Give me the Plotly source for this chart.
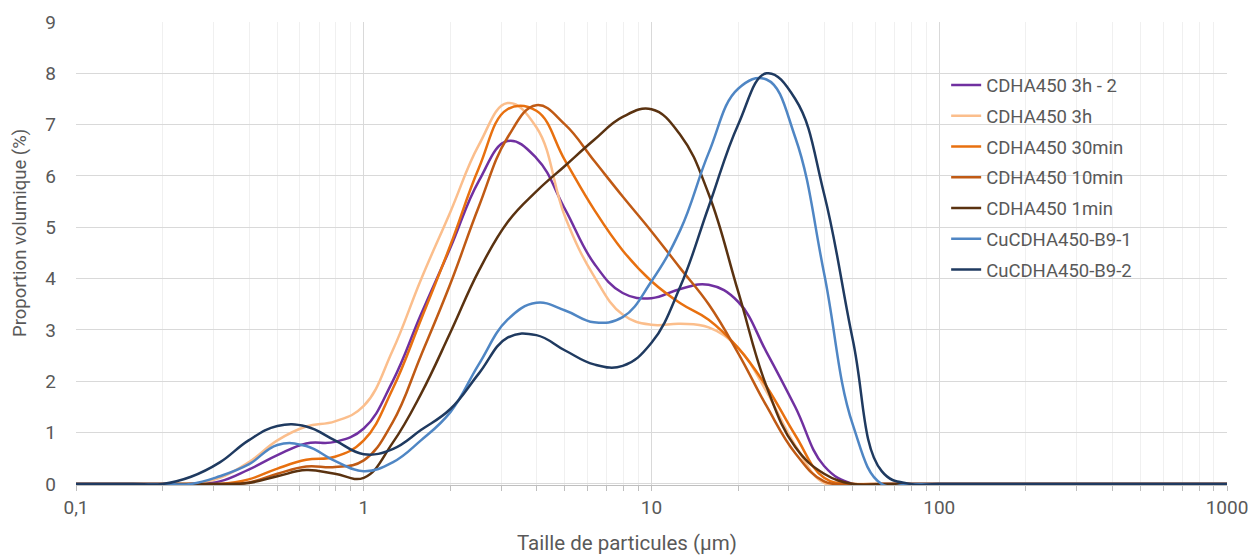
import plotly.graph_objects as go

# particle sizes (µm), log-spaced 0.1 decade grid from 0.1 to 100, plus 1000
sizes = [0.1, 0.126, 0.158, 0.2, 0.251, 0.316, 0.398, 0.501, 0.631, 0.794,
         1.0, 1.26, 1.58, 2.0, 2.51, 3.16, 3.98, 5.01, 6.31, 7.94,
         10.0, 12.6, 15.8, 20.0, 25.1, 31.6, 39.8, 50.1, 63.1, 79.4, 100.0, 1000.0]

names = ["CDHA450 3h - 2", "CDHA450 3h", "CDHA450 30min", "CDHA450 10min",
         "CDHA450 1min", "CuCDHA450-B9-1", "CuCDHA450-B9-2"]

cdha_3h_2 = [0, 0, 0, 0, 0, 0.05, 0.28, 0.56, 0.79, 0.82,
             1.08, 2.0, 3.3, 4.6, 5.9, 6.68, 6.35, 5.35, 4.3, 3.72,
             3.62, 3.8, 3.88, 3.55, 2.57, 1.5, 0.35, 0, 0, 0, 0, 0]
cdha_3h = [0, 0, 0, 0, 0, 0.12, 0.42, 0.85, 1.12, 1.22,
           1.52, 2.6, 3.98, 5.3, 6.6, 7.42, 6.95, 5.2, 4.05, 3.3,
           3.1, 3.12, 3.05, 2.65, 1.8, 0.75, 0.02, 0, 0, 0, 0, 0]
cdha_30min = [0, 0, 0, 0, 0, 0, 0.09, 0.3, 0.47, 0.53,
              0.85, 1.85, 3.2, 4.65, 6.15, 7.3, 7.27, 6.3, 5.35, 4.55,
              3.95, 3.52, 3.2, 2.65, 1.9, 0.95, 0.12, 0, 0, 0, 0, 0]
cdha_10min = [0, 0, 0, 0, 0, 0, 0.03, 0.2, 0.34, 0.33,
              0.46, 1.2, 2.5, 3.9, 5.4, 6.75, 7.38, 7.0, 6.3, 5.6,
              4.92, 4.2, 3.5, 2.55, 1.52, 0.6, 0.05, 0, 0, 0, 0, 0]
cdha_1min = [0, 0, 0, 0, 0, 0, 0.02, 0.15, 0.27, 0.2,
             0.12, 0.8, 1.75, 2.95, 4.15, 5.1, 5.7, 6.2, 6.7, 7.15,
             7.3, 6.8, 5.65, 3.75, 1.9, 0.72, 0.2, 0, 0, 0, 0, 0]
cu_b9_1 = [0, 0, 0, 0, 0, 0.15, 0.38, 0.76, 0.74, 0.45,
           0.25, 0.42, 0.85, 1.4, 2.33, 3.2, 3.53, 3.38, 3.15, 3.25,
           3.95, 4.95, 6.45, 7.7, 7.88, 6.75, 4.1, 1.15, 0, 0, 0, 0]
cu_b9_2 = [0, 0, 0, 0, 0.14, 0.42, 0.85, 1.13, 1.12, 0.85,
           0.58, 0.68, 1.05, 1.46, 2.15, 2.85, 2.9, 2.6, 2.33, 2.3,
           2.75, 3.85, 5.4, 7.0, 8.0, 7.5, 5.65, 2.8, 0.25, 0, 0, 0]

series = [cdha_3h_2, cdha_3h, cdha_30min, cdha_10min, cdha_1min, cu_b9_1, cu_b9_2]
colors = ["#7030A0", "#FBBE8C", "#E8700F", "#C05A14", "#5A3210", "#4F86C4", "#1F3A60"]

x_tickvals = [0.1, 1, 10, 100, 1000]
x_ticktext = ["0,1", "1", "10", "100", "1000"]
y_tickvals = list(range(0, 10))

fig = go.Figure()
for i, (name, vals, col) in enumerate(zip(names, series, colors)):
    fig.add_trace(go.Scatter(
        x=sizes, y=vals, name=name, mode="lines",
        line=dict(color=col, width=2.5, shape="spline", smoothing=1.2),
        legendgroup=f"g{i}",
    ))

font_col = "#595959"
fam = "Roboto, 'Noto Sans', sans-serif"
fig.update_layout(
    width=1250, height=555,
    margin=dict(l=76, r=23, t=22, b=70, autoexpand=False),
    paper_bgcolor="white", plot_bgcolor="white",
    font=dict(family=fam, color=font_col, size=18),
    showlegend=True,
    legend=dict(x=0.756, y=0.904, xanchor="left", yanchor="top",
                bgcolor="rgba(0,0,0,0)", font=dict(size=18.5, color=font_col),
                tracegroupgap=3.7, itemwidth=30),
    xaxis=dict(
        type="log", range=[-1, 3], automargin=False,
        tickvals=x_tickvals, ticktext=x_ticktext,
        tickfont=dict(size=19, color=font_col),
        showgrid=True, gridcolor="#D9D9D9", gridwidth=1,
        ticks="outside", ticklen=5, tickcolor="#BFBFBF",
        minor=dict(showgrid=True, gridcolor="#F0F0F0", ticks="outside",
                   ticklen=5, tickcolor="#BFBFBF", dtick="D1"),
        showline=True, linecolor="#BFBFBF", linewidth=1,
        zeroline=False,
    ),
    yaxis=dict(
        range=[-0.02, 9.0], automargin=False,
        tickvals=y_tickvals,
        tickfont=dict(size=19, color=font_col),
        showgrid=True, gridcolor="#D9D9D9", gridwidth=1,
        zeroline=False, showline=False,
        ticklabelstandoff=19,
    ),
    annotations=[
        dict(text="Taille de particules (µm)", xref="paper", yref="paper",
             x=0.4787, y=-0.1253, xanchor="center", yanchor="middle",
             showarrow=False, font=dict(size=20.5, color=font_col, family=fam)),
        dict(text="Proportion volumique (%)", xref="paper", yref="paper",
             x=-0.0487, y=0.5443, xanchor="center", yanchor="middle", textangle=-90,
             showarrow=False, font=dict(size=18.5, color=font_col, family=fam)),
    ],
)

fig.write_html("out.html", config={"displayModeBar": False},
               post_script="document.body.style.margin='0px';document.body.style.overflow='hidden';")
